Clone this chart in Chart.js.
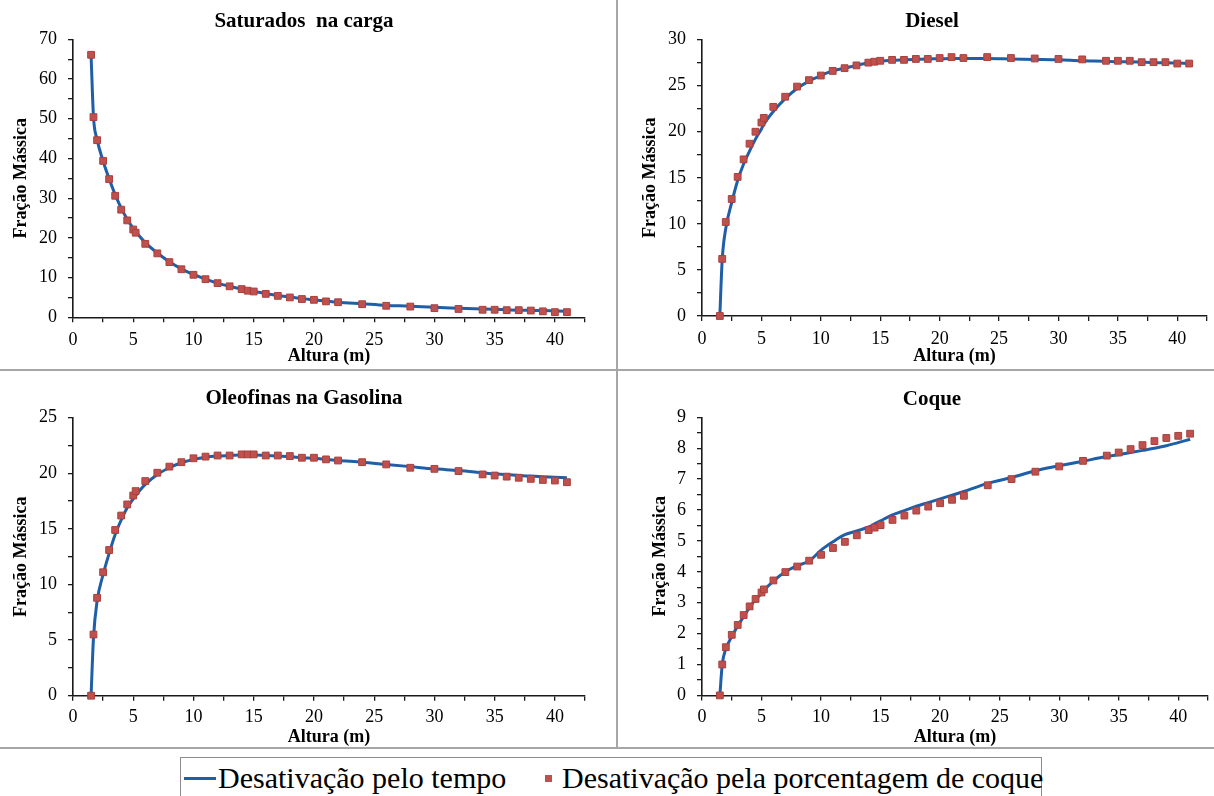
<!DOCTYPE html>
<html>
<head>
<meta charset="utf-8">
<script src="https://cdn.jsdelivr.net/npm/chart.js@4.4.1/dist/chart.umd.min.js"></script>
<style>
  html, body { margin: 0; padding: 0; background: #fff; width: 1214px; height: 796px; overflow: hidden;
    font-family: 'Liberation Serif', 'Times New Roman', serif; color: #000; }
  .panel { position: absolute; }
  .ptitle { position: absolute; font-weight: bold; font-size: 21px; line-height: 24px; white-space: pre;
    transform: translate(-50%, -50%); color: #000; }
  .sep { position: absolute; background: #a6a6a6; z-index: 5; }
  #legend { position: absolute; left: 180px; top: 757px; width: 862px; height: 60px; border: 1px solid #8c8c8c;
    box-sizing: border-box; background: #fff; }
  #legend span { position: absolute; }
  .ltxt { font-size: 30px; line-height: 30px; white-space: nowrap; top: 5px; }
</style>
</head>
<body>
<canvas id="c1" class="panel" width="616" height="369" style="left:0;top:0"></canvas>
<canvas id="c2" class="panel" width="597" height="369" style="left:617px;top:0"></canvas>
<canvas id="c3" class="panel" width="616" height="377" style="left:0;top:371px"></canvas>
<canvas id="c4" class="panel" width="597" height="377" style="left:617px;top:371px"></canvas>

<div class="ptitle" style="left:304px;top:20px">Saturados  na carga</div>
<div class="ptitle" style="left:932px;top:20px">Diesel</div>
<div class="ptitle" style="left:304px;top:397px">Oleofinas na Gasolina</div>
<div class="ptitle" style="left:932px;top:398px">Coque</div>

<div class="sep" style="left:616px;top:0;width:2px;height:749px"></div>
<div class="sep" style="left:0;top:369px;width:1214px;height:2px"></div>
<div class="sep" style="left:0;top:747px;width:1214px;height:2px"></div>

<div id="legend">
  <span style="left:3px;top:19px;width:32px;height:3px;background:#1F5FA8"></span>
  <span class="ltxt" style="left:37px">Desativação pelo tempo</span>
  <span style="left:364px;top:17px;width:7px;height:7px;background:#C0504D"></span>
  <span class="ltxt" style="left:381px">Desativação pela porcentagem de coque</span>
</div>

<script>
// ---- Data ----
const alturas = [1.5, 1.7, 2, 2.5, 3, 3.5, 4, 4.5, 5, 5.2, 6, 7, 8, 9, 10, 11, 12, 13, 14, 14.5, 15,
                 16, 17, 18, 19, 20, 21, 22, 24, 26, 28, 30, 32, 34, 35, 36, 37, 38, 39, 40, 41];

const saturadosTempo = [66.0, 50.5, 44.8, 39.3, 34.9, 30.9, 27.5, 24.7, 22.4, 21.6, 18.8, 16.2, 14.0, 12.2, 10.8, 9.6, 8.6, 7.8, 7.1, 6.8, 6.5,
                        6.0, 5.5, 5.1, 4.7, 4.4, 4.1, 3.8, 3.4, 3.0, 2.8, 2.5, 2.3, 2.1, 2.0, 1.9, 1.8, 1.75, 1.7, 1.6, 1.5];
const saturadosCoque = [66.1, 50.4, 44.6, 39.4, 34.8, 30.6, 27.1, 24.4, 22.1, 21.3, 18.5, 16.1, 13.9, 12.1, 10.7, 9.6, 8.6, 7.8, 7.1, 6.7, 6.5,
                        5.9, 5.4, 5.0, 4.6, 4.4, 4.0, 3.8, 3.3, 2.9, 2.7, 2.3, 2.1, 1.9, 1.9, 1.8, 1.8, 1.7, 1.5, 1.3, 1.3];

const dieselTempo = [0, 6.1, 9.5, 12.3, 14.7, 16.5, 17.9, 19.2, 20.3, 20.8, 22.2, 23.6, 24.7, 25.5, 26.1, 26.6, 26.9, 27.2, 27.45, 27.55, 27.65,
                     27.75, 27.8, 27.85, 27.9, 27.92, 27.95, 27.95, 27.95, 27.9, 27.85, 27.8, 27.7, 27.65, 27.6, 27.6, 27.55, 27.5, 27.5, 27.45, 27.4];
const dieselCoque = [0, 6.2, 10.2, 12.7, 15.1, 17.0, 18.7, 20.0, 21.0, 21.5, 22.7, 23.8, 24.9, 25.6, 26.1, 26.6, 26.9, 27.2, 27.5, 27.6, 27.7,
                     27.8, 27.8, 27.9, 27.9, 28.0, 28.1, 28.0, 28.1, 28.0, 27.95, 27.9, 27.85, 27.7, 27.7, 27.7, 27.55, 27.55, 27.55, 27.4, 27.4];

const oleofinasTempo = [0, 5.2, 8.5, 10.9, 12.8, 14.5, 15.8, 16.9, 17.7, 18.0, 19.0, 19.9, 20.5, 20.95, 21.25, 21.45, 21.55, 21.6, 21.65, 21.65, 21.65,
                        21.6, 21.55, 21.5, 21.4, 21.35, 21.25, 21.15, 21.0, 20.8, 20.6, 20.4, 20.25, 20.05, 19.95, 19.9, 19.8, 19.75, 19.7, 19.65, 19.6];
const oleofinasCoque = [0, 5.5, 8.8, 11.1, 13.1, 14.9, 16.2, 17.2, 18.0, 18.4, 19.3, 20.05, 20.6, 21.0, 21.35, 21.5, 21.6, 21.6, 21.7, 21.7, 21.7,
                        21.6, 21.6, 21.55, 21.4, 21.4, 21.25, 21.15, 21.0, 20.8, 20.5, 20.4, 20.2, 19.9, 19.8, 19.7, 19.6, 19.5, 19.4, 19.35, 19.2];

const coqueTempo = [0, 1.0, 1.5, 1.9, 2.25, 2.55, 2.85, 3.1, 3.3, 3.4, 3.7, 4.0, 4.2, 4.35, 4.7, 4.97, 5.2, 5.32, 5.45, 5.55, 5.65,
                    5.84, 5.98, 6.12, 6.24, 6.36, 6.48, 6.6, 6.86, 7.05, 7.27, 7.43, 7.58, 7.73, 7.79, 7.86, 7.93, 8.0, 8.08, 8.18, 8.29];
const coqueCoque = [0, 1.0, 1.56, 1.96, 2.28, 2.6, 2.88, 3.12, 3.33, 3.43, 3.72, 3.99, 4.17, 4.36, 4.55, 4.77, 4.97, 5.18, 5.35, 5.43, 5.51,
                    5.68, 5.82, 5.98, 6.11, 6.22, 6.33, 6.46, 6.8, 7.0, 7.24, 7.41, 7.59, 7.76, 7.86, 7.97, 8.1, 8.23, 8.33, 8.4, 8.47];

const serieNomes = ['Desativação pelo tempo', 'Desativação pela porcentagem de coque'];
const xTitulo = 'Altura (m)';
const yTitulo = 'Fração Mássica';
const xMax = 42.5, xPasso = 2.5, xRotulo = 5;

// ---- Chart construction ----
Chart.defaults.font.family = "'Liberation Serif', 'Times New Roman', serif";
Chart.defaults.color = '#000';

function isMultiple(v, step) {
  const r = v / step;
  return Math.abs(r - Math.round(r)) < 1e-7;
}

function makeChart(id, tempo, coque, yMax, yStep, yLabelStep, g) {
  const black = '#1a1a1a';
  new Chart(document.getElementById(id), {
    type: 'scatter',
    data: {
      datasets: [
        {
          label: serieNomes[1],
          data: alturas.map((x, i) => ({ x: x, y: coque[i] })),
          pointStyle: 'rect', pointRadius: 4.8, pointHoverRadius: 4.8,
          backgroundColor: '#C0504D', borderColor: '#A8403D', borderWidth: 1,
          showLine: false, clip: false, order: 0
        },
        {
          label: serieNomes[0],
          data: alturas.map((x, i) => ({ x: x, y: tempo[i] })),
          showLine: true, borderColor: '#1F5FA8', backgroundColor: '#1F5FA8', borderWidth: 3,
          pointRadius: 0, pointHoverRadius: 0, tension: 0.4, cubicInterpolationMode: 'monotone',
          fill: false, clip: false, order: 1
        }
      ]
    },
    options: {
      responsive: false, animation: false, maintainAspectRatio: false,
      layout: { padding: { left: g.L, top: g.top, right: g.R, bottom: 0 } },
      plugins: { legend: { display: false }, tooltip: { enabled: false }, title: { display: false } },
      scales: {
        x: {
          type: 'linear', min: 0, max: xMax,
          afterFit: s => { s.height = g.H; },
          border: { display: true, color: black, width: 1.6 },
          grid: { display: true, drawOnChartArea: false, drawTicks: true, tickLength: 5, color: black, lineWidth: 1.3 },
          ticks: {
            stepSize: xPasso, autoSkip: false, maxRotation: 0, padding: g.xPad,
            font: { size: 18 }, color: '#000',
            callback: v => isMultiple(v, xRotulo) ? String(v) : ''
          },
          title: { display: true, text: xTitulo, font: { size: 18, weight: 'bold' }, color: '#000',
                   padding: { top: 0, bottom: g.xtPad } }
        },
        y: {
          type: 'linear', min: 0, max: yMax,
          afterFit: s => { s.width = g.W; },
          border: { display: true, color: black, width: 1.6 },
          grid: { display: true, drawOnChartArea: false, drawTicks: true, tickLength: 5, color: black, lineWidth: 1.3 },
          ticks: {
            stepSize: yStep, autoSkip: false, padding: 11,
            font: { size: 18 }, color: '#000',
            callback: v => isMultiple(v, yLabelStep) ? String(v) : ''
          },
          title: { display: true, text: yTitulo, font: { size: 18, weight: 'bold' }, color: '#000',
                   padding: { top: 0, bottom: 0 } }
        }
      }
    }
  });
}

makeChart('c1', saturadosTempo, saturadosCoque, 70, 5, 10,
  { L: 11, W: 62, top: 39.3, R: 31, H: 51.7, xPad: 7, xtPad: 2 });
makeChart('c2', dieselTempo, dieselCoque, 30, 2.5, 5,
  { L: 23, W: 62, top: 39.6, R: 1, H: 53, xPad: 7, xtPad: 2 });
makeChart('c3', oleofinasTempo, oleofinasCoque, 25, 2.5, 5,
  { L: 11, W: 62, top: 46.7, R: 31, H: 52.3, xPad: 6, xtPad: 0 });
makeChart('c4', coqueTempo, coqueCoque, 9, 0.5, 1,
  { L: 33, W: 52, top: 46.3, R: 1, H: 52.6, xPad: 6, xtPad: 0 });
</script>
</body>
</html>
